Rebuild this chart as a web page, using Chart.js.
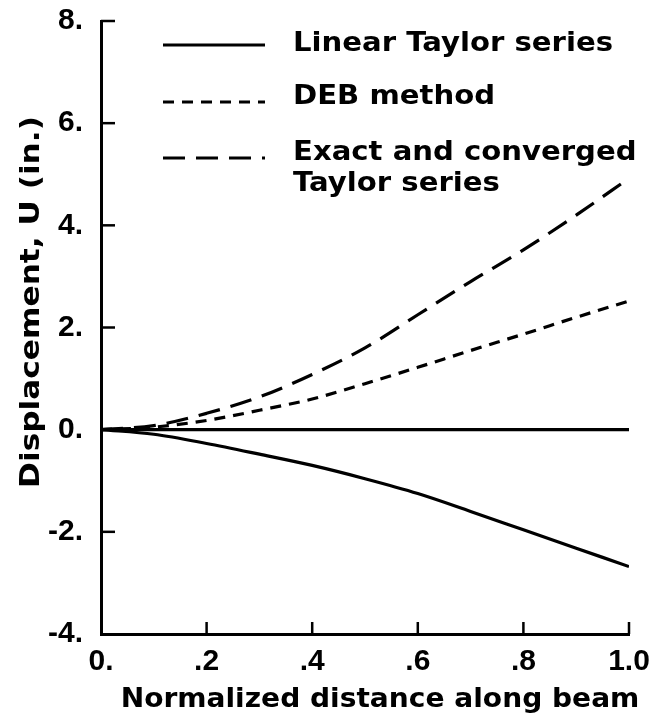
<!DOCTYPE html>
<html><head><meta charset="utf-8">
<script src="https://cdn.jsdelivr.net/npm/chart.js@4/dist/chart.umd.min.js"></script>
<style>html,body{margin:0;padding:0;background:#fff}</style>
</head><body>
<canvas id="c" width="661" height="721"></canvas>
<script>
// ---- data ----
const xPositions     = [0, 0.1, 0.2, 0.3, 0.4, 0.5, 0.6, 0.7, 0.8, 0.9, 1.0];
const linearTaylor   = [0, -0.09, -0.27, -0.48, -0.70, -0.96, -1.25, -1.60, -1.96, -2.32, -2.68];
const debMethod      = [0, 0.05, 0.18, 0.38, 0.60, 0.90, 1.22, 1.55, 1.87, 2.20, 2.52];
const exactConverged = [0, 0.08, 0.32, 0.64, 1.08, 1.60, 2.25, 2.90, 3.52, 4.20, 4.92];
const zeroLineX      = [0, 1.0];
const zeroLineY      = [0, 0];
const xTickValues    = [0, 0.2, 0.4, 0.6, 0.8, 1.0];
const xTickLabels    = ['0.', '.2', '.4', '.6', '.8', '1.0'];
const yTickValues    = [-4, -2, 0, 2, 4, 6, 8];
const yTickLabels    = ['-4.', '-2.', '0.', '2.', '4.', '6.', '8.'];
const seriesNames    = ['Linear Taylor series', 'DEB method', 'Exact and converged\nTaylor series'];
const xTitle         = 'Normalized distance along beam';
const yTitle         = 'Displacement, U (in.)';

const WIDE = "'DejaVu Sans', Verdana, sans-serif";
const TICKF = "'Liberation Sans', Arial, Helvetica, sans-serif";
const toPts = (xs, ys) => xs.map((x, i) => ({x: x, y: ys[i]}));

function scaledText(ctx, text, x, y, sx) {
  ctx.save(); ctx.translate(x, y); ctx.scale(sx, 1); ctx.fillText(text, 0, 0); ctx.restore();
}

const decoPlugin = {
  id: 'deco',
  afterDraw(chart) {
    const ctx = chart.ctx;
    ctx.save();
    const xs = chart.scales.x, ys = chart.scales.y, a = chart.chartArea;
    // inward ticks
    ctx.strokeStyle = '#000'; ctx.lineWidth = 2.5;
    yTickValues.forEach(v => {
      if (v === -4) return;
      const py = ys.getPixelForValue(v);
      ctx.beginPath(); ctx.moveTo(a.left, py); ctx.lineTo(a.left + 14, py); ctx.stroke();
    });
    xTickValues.forEach(v => {
      if (v === 0) return;
      const px = xs.getPixelForValue(v);
      ctx.beginPath(); ctx.moveTo(px, a.bottom); ctx.lineTo(px, a.bottom - 12); ctx.stroke();
    });
    // legend
    const lineY = [45, 102, 158];
    const baseY = [51, 104, 160];
    ctx.fillStyle = '#000';
    ctx.textBaseline = 'alphabetic';
    ctx.textAlign = 'left';
    ctx.font = 'bold 26px ' + WIDE;
    for (let i = 0; i < 3; i++) {
      const ds = chart.data.datasets[i];
      ctx.lineWidth = ds.borderWidth;
      ctx.setLineDash(ds.borderDash || []);
      ctx.beginPath(); ctx.moveTo(163, lineY[i]); ctx.lineTo(265, lineY[i]); ctx.stroke();
      ctx.setLineDash([]);
      ds.label.split('\n').forEach((t, k) => scaledText(ctx, t, 293, baseY[i] + k * 31, 1.12));
    }
    // axis titles
    ctx.textAlign = 'center';
    ctx.textBaseline = 'middle';
    ctx.font = 'bold 27px ' + WIDE;
    scaledText(ctx, xTitle, 380, 700, 1.04);
    ctx.save();
    ctx.translate(32, 302); ctx.rotate(-Math.PI / 2);
    ctx.font = 'bold 26px ' + WIDE;
    scaledText(ctx, yTitle, 0, 0, 1.2);
    ctx.restore();
    ctx.restore();
  }
};

new Chart(document.getElementById('c'), {
  type: 'scatter',
  data: {
    datasets: [
      { label: seriesNames[0], data: toPts(xPositions, linearTaylor), showLine: true, borderColor: '#000', borderWidth: 3.2, pointRadius: 0, cubicInterpolationMode: 'monotone' },
      { label: seriesNames[1], data: toPts(xPositions, debMethod), showLine: true, borderColor: '#000', borderWidth: 3.2, borderDash: [11, 8], pointRadius: 0, cubicInterpolationMode: 'monotone' },
      { label: seriesNames[2], data: toPts(xPositions, exactConverged), showLine: true, borderColor: '#000', borderWidth: 3.2, borderDash: [22, 11], pointRadius: 0, cubicInterpolationMode: 'monotone' },
      { label: 'zero', data: toPts(zeroLineX, zeroLineY), showLine: true, borderColor: '#000', borderWidth: 3.2, pointRadius: 0 }
    ]
  },
  options: {
    responsive: false,
    animation: false,
    layout: { padding: { top: 21, right: 32, left: 0, bottom: 0 } },
    plugins: { legend: { display: false }, tooltip: { enabled: false } },
    scales: {
      x: {
        type: 'linear', min: 0, max: 1,
        afterBuildTicks: s => { s.ticks = xTickValues.map(v => ({value: v})); },
        afterFit: s => { s.height = 87; s.paddingLeft = 0; s.paddingRight = 0; },
        grid: { display: false, drawTicks: false },
        border: { display: true, color: '#000', width: 3 },
        ticks: { color: '#000', font: { family: TICKF, size: 30, weight: 'bold' }, padding: 10, maxRotation: 0,
                 callback: (v) => xTickLabels[xTickValues.findIndex(t => Math.abs(t - v) < 1e-6)] },
        title: { display: false }
      },
      y: {
        type: 'linear', min: -4, max: 8,
        afterBuildTicks: s => { s.ticks = yTickValues.map(v => ({value: v})); },
        afterFit: s => { s.width = 101; s.paddingTop = 0; s.paddingBottom = 0; },
        grid: { display: false, drawTicks: false },
        border: { display: true, color: '#000', width: 3 },
        ticks: { color: '#000', font: { family: TICKF, size: 30, weight: 'bold' }, padding: 18,
                 callback: (v) => yTickLabels[yTickValues.findIndex(t => Math.abs(t - v) < 1e-6)] },
        title: { display: false }
      }
    }
  },
  plugins: [decoPlugin, {
    id: 'bg',
    beforeDraw(chart) { const c = chart.ctx; c.save(); c.fillStyle = '#fff'; c.fillRect(0, 0, chart.width, chart.height); c.restore(); }
  }]
});
</script>
</body></html>
